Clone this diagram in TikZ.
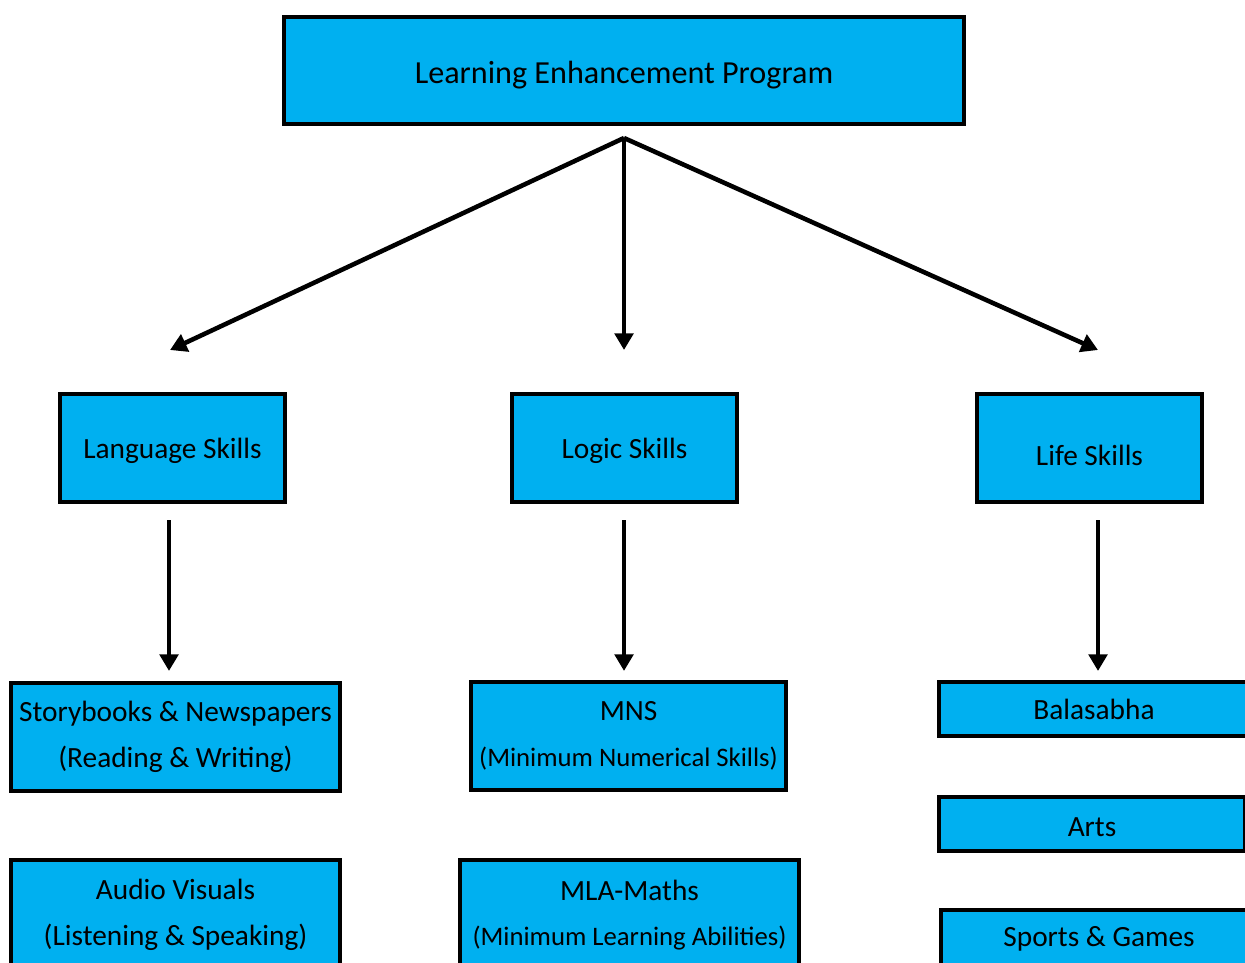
\documentclass[tikz,border=0pt]{standalone}
\usepackage{fontspec}
\setmainfont{Carlito}
\usetikzlibrary{arrows.meta}
\definecolor{boxblue}{HTML}{00B0F0}
\tikzset{
  box/.style={draw=black, line width=2pt, fill=boxblue, inner sep=0pt, align=center,
              font=\fontsize{16.7pt}{20pt}\selectfont},
  conn/.style={line width=2.6pt, -{Triangle[width=10.5pt,length=9.5pt]}},
}
\newcommand{\sm}{\fontsize{15.2pt}{18pt}\selectfont}
\newcommand{\dn}[2]{\raisebox{-#1}[\height][\depth]{#2}}
\begin{document}
\begin{tikzpicture}[x=0.02cm, y=-0.02cm]
\useasboundingbox (0,0) rectangle (1245,963);
\clip (0,0) rectangle (1245,963);
% top
\node[box, minimum width=13.6cm, minimum height=2.14cm, font=\fontsize{18.3pt}{22pt}\selectfont] (lep) at (624,70.5) {\dn{2.5pt}{Learning Enhancement Program}};
% second level
\node[box, minimum width=4.5cm, minimum height=2.16cm] (lang) at (172.5,448) {\dn{1.5pt}{Language Skills}};
\node[box, minimum width=4.5cm, minimum height=2.16cm] (logic) at (624.5,448) {\dn{1.5pt}{Logic Skills}};
\node[box, minimum width=4.5cm, minimum height=2.16cm] (life) at (1089.5,448) {\dn{4pt}{Life Skills}};
% third level - language
\node[box, minimum width=6.58cm, minimum height=2.16cm] (story) at (175.5,737) {Storybooks \& Newspapers\\[6pt](Reading \& Writing)};
\node[box, minimum width=6.58cm, minimum height=2.2cm] (audio) at (175.5,915) {Audio Visuals\\[6pt](Listening \& Speaking)};
% logic
\node[box, minimum width=6.3cm, minimum height=2.16cm] (mns) at (628.5,736) {MNS\\[6pt]{\sm (Minimum Numerical Skills)}};
\node[box, minimum width=6.78cm, minimum height=2.2cm] (mla) at (629.5,915) {MLA-Maths\\[6pt]{\sm (Minimum Learning Abilities)}};
% life
\node[box, minimum width=6.2cm, minimum height=1.08cm] (bala) at (1094,709) {Balasabha};
\node[box, minimum width=6.12cm, minimum height=1.08cm] (arts) at (1092,824) {\dn{2pt}{Arts}};
\node[box, minimum width=6.32cm, minimum height=1.16cm] (sports) at (1099,939) {Sports \& Games};
% connectors
\coordinate (hub) at (624,138);
\coordinate (e1) at (170,350);
\coordinate (e2) at (624,350);
\coordinate (e3) at (1098,350);
\draw[conn] (hub) -- (e1);
\draw[conn] (hub) -- (e2);
\draw[conn] (hub) -- (e3);
\coordinate (s1) at (169,520); \coordinate (t1) at (169,671);
\coordinate (s2) at (624,520); \coordinate (t2) at (624,671);
\coordinate (s3) at (1098,520); \coordinate (t3) at (1098,671);
\draw[conn] (s1) -- (t1);
\draw[conn] (s2) -- (t2);
\draw[conn] (s3) -- (t3);
\end{tikzpicture}
\end{document}
